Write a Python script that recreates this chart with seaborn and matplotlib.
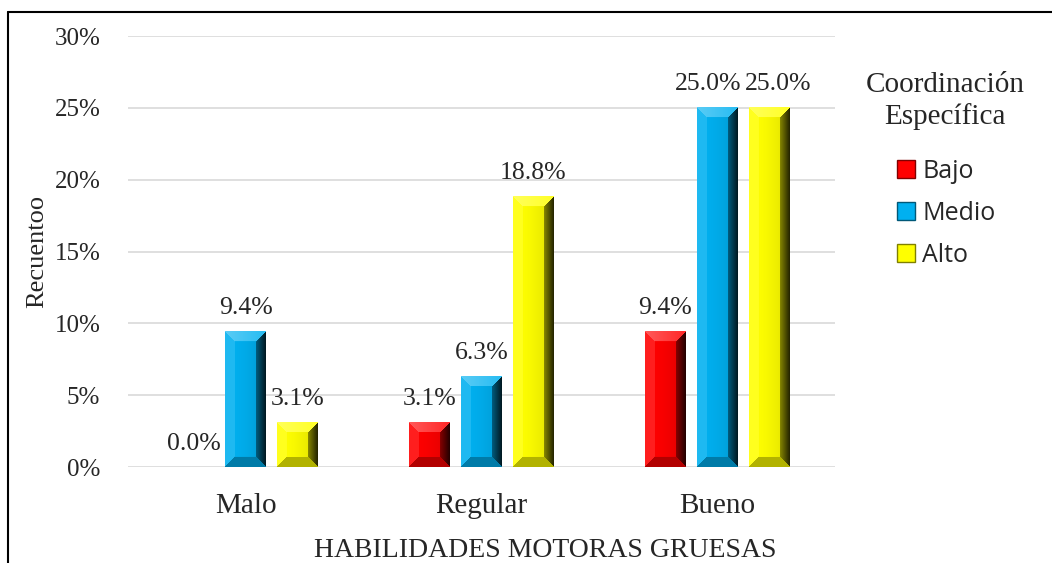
import numpy as np
import pandas as pd
import matplotlib
matplotlib.use('Agg')
import matplotlib.pyplot as plt
import matplotlib.colors as mcolors
from matplotlib.lines import Line2D
from matplotlib.patches import Patch
import seaborn as sns

# datos (porcentajes)
categorias = ['Malo', 'Regular', 'Bueno']
niveles = ['Bajo', 'Medio', 'Alto']
bajo = [0.0, 3.1, 9.4]
medio = [9.4, 6.3, 25.0]
alto = [3.1, 18.8, 25.0]
colores = ['#FF0000', '#00B0F0', '#FFFF00']
yticks = [0, 5, 10, 15, 20, 25, 30]

df = pd.DataFrame({'Habilidades': categorias * 3,
                   'Coordinacion': np.repeat(niveles, 3),
                   'Porcentaje': bajo + medio + alto})

sns.set_style('white')
plt.rcParams['font.family'] = ['Liberation Serif', 'DejaVu Serif']

fig = plt.figure(figsize=(10.52, 5.63), dpi=100)
ax = fig.add_axes([0.1217, 0.1705, 0.6720, 0.7655])

sns.barplot(data=df, x='Habilidades', y='Porcentaje', hue='Coordinacion',
            order=categorias, hue_order=niveles, palette=dict(zip(niveles, colores)),
            width=0.66, gap=0.21, saturation=1, errorbar=None, legend=False,
            linewidth=0, ax=ax)

ax.set_xlim(-0.5, 2.5)
ax.set_ylim(0, 30)
ax.set_yticks(yticks)
ax.yaxis.set_major_formatter(lambda v, p: f'{v:.0f}%')
ax.tick_params(axis='y', length=0, pad=20, labelsize=18)
ax.tick_params(axis='x', length=0, pad=19, labelsize=21)
ax.grid(axis='y', color='#D9D9D9', linewidth=1.2)
ax.set_axisbelow(True)
sns.despine(ax=ax, left=True, bottom=True)

ax.set_xlabel('HABILIDADES MOTORAS GRUESAS', fontsize=20, va='bottom')
ax.xaxis.set_label_coords(0.59, -0.2225)
ax.set_ylabel('Recuentoo', fontsize=19, va='center')
ax.yaxis.set_label_coords(-0.129, 0.5)


# efecto de bisel (como en Excel)
def mezcla(c, f):
    c = np.asarray(c)
    if f >= 0:
        return c + (1 - c) * f
    return c * (1 + f)


def bisel(bar, color, d=10):
    h = bar.get_height()
    if h <= 0:
        return
    bb = bar.get_window_extent()
    wp, hp = max(int(round(bb.width)), 2), max(int(round(bb.height)), 2)
    base = np.array(mcolors.to_rgb(color))
    img = np.zeros((hp, wp, 3))
    for j in range(hp):
        for i in range(wp):
            dl, dr, db, dt = i, wp - 1 - i, j, hp - 1 - j
            m = min(dl, dr, db, dt)
            if m >= d:
                f = -0.15 * (i / wp) ** 2
                img[j, i] = mezcla(base, f)
            elif m == dt:
                img[j, i] = mezcla(base, 0.35 - 0.2 * (i / wp))
            elif m == db:
                img[j, i] = mezcla(base, -0.3)
            elif m == dl:
                img[j, i] = mezcla(base, 0.12)
            else:
                img[j, i] = mezcla(base, -0.45 - 0.4 * (1 - dr / d))
    x0 = bar.get_x()
    ax.imshow(img, extent=[x0, x0 + bar.get_width(), 0, h], origin='lower',
              aspect='auto', interpolation='bilinear', zorder=bar.get_zorder() + 0.1)


for cont, col in zip(ax.containers, colores):
    for bar in cont:
        bisel(bar, col)
ax.set_xlim(-0.5, 2.5)
ax.set_ylim(0, 30)

anns = []
for cont in ax.containers:
    anns += ax.bar_label(cont, labels=[f'{b.get_height():.1f}%' for b in cont],
                         padding=9, fontsize=18.5)

# separar etiquetas que se superponen
fig.canvas.draw()
r = fig.canvas.get_renderer()
for a in anns:
    for b in anns:
        if a is b:
            continue
        ba, bb2 = a.get_window_extent(r), b.get_window_extent(r)
        if ba.x0 < bb2.x0 and ba.overlaps(bb2):
            ov = ba.x1 - bb2.x0 + 4
            s = ov / 2 * 72 / fig.dpi
            a.xyann = (a.xyann[0] - s, a.xyann[1])
            b.xyann = (b.xyann[0] + s, b.xyann[1])

# leyenda
fig.text(945 / 1052, 1 - 101 / 563, 'Coordinación\nEspecífica', ha='center', va='center',
         multialignment='center', fontsize=21, linespacing=1.27)
handles = [Patch(facecolor=c, edgecolor=mezcla(mcolors.to_rgb(c), -0.5), linewidth=1) for c in colores]
fig.legend(handles, niveles, loc='upper left', bbox_to_anchor=(897 / 1052, 1 - 159 / 563),
           frameon=False, borderpad=0, borderaxespad=0, handlelength=0.72, handleheight=0.72,
           handletextpad=0.3, labelspacing=0.68, prop={'family': 'Open Sans', 'size': 18})

# borde de la figura
fig.add_artist(Line2D([8 / 1052, 8 / 1052], [0, 1 - 12 / 563], color='black', linewidth=1.5))
fig.add_artist(Line2D([8 / 1052, 1], [1 - 12 / 563, 1 - 12 / 563], color='black', linewidth=1.5))

fig.savefig('out.png', dpi=100)
